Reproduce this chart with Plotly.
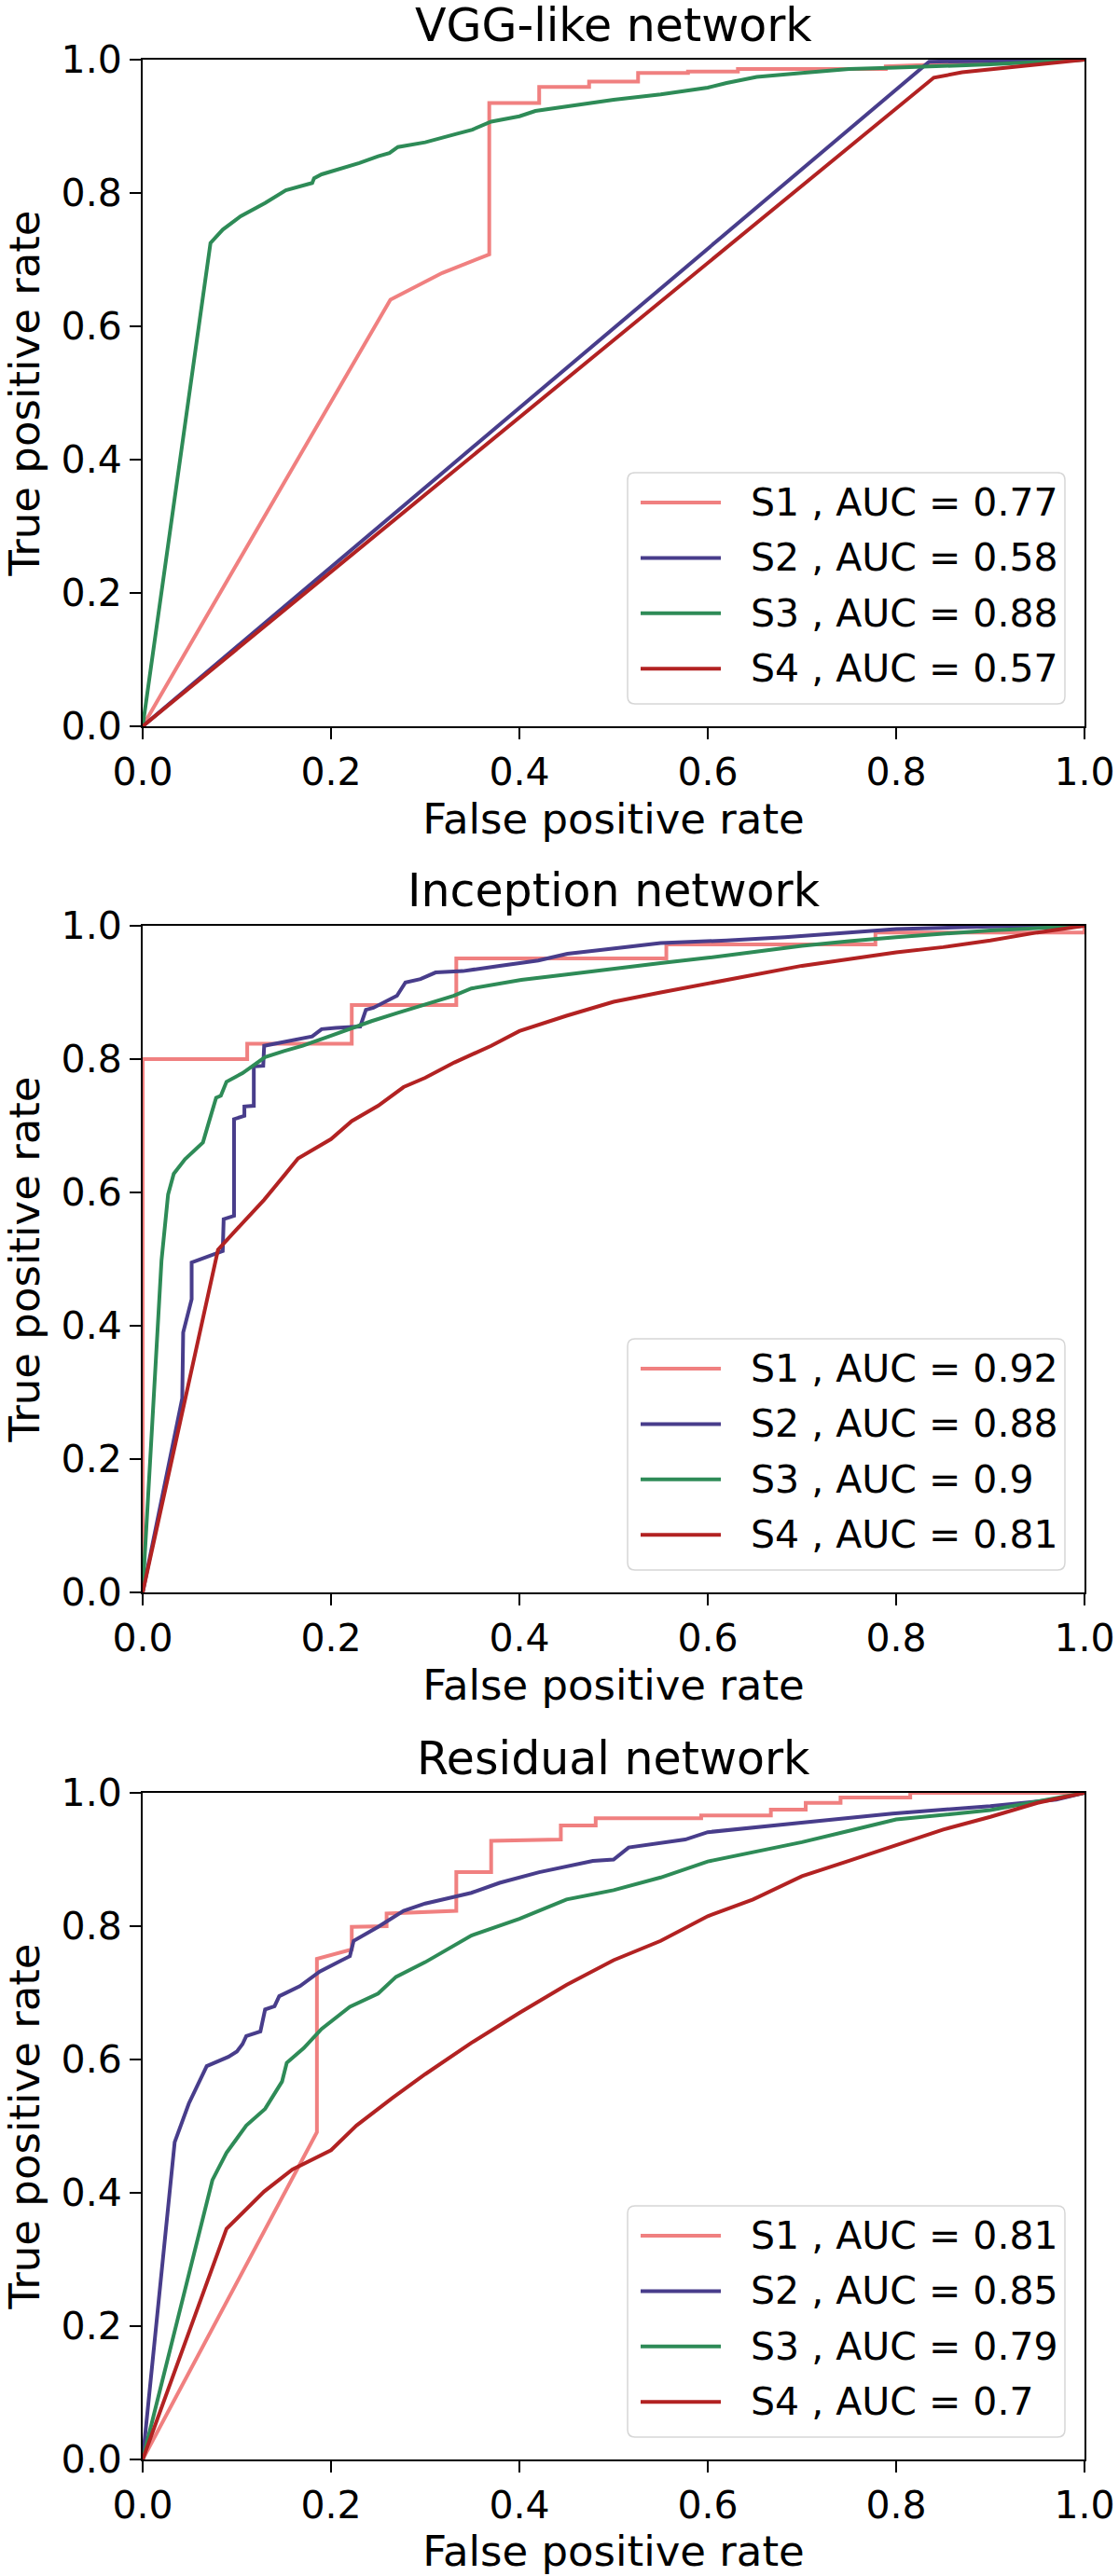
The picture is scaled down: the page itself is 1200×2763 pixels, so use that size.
import plotly.graph_objects as go

# ROC curves: three networks, four sets each
titles = ["VGG-like network", "Inception network", "Residual network"]
series_names = ["S1", "S2", "S3", "S4"]
colors = ["#F08080", "#483D8B", "#2E8B57", "#B22222"]
tick_vals = [0.0, 0.2, 0.4, 0.6, 0.8, 1.0]

# VGG-like network
vgg_auc = ["0.77", "0.58", "0.88", "0.57"]
vgg_s1_fpr = [0, 0.263, 0.318, 0.368, 0.368, 0.421, 0.421, 0.474, 0.474, 0.526, 0.526, 0.579, 0.579, 0.632, 0.632, 0.789, 0.789, 1.0]
vgg_s1_tpr = [0, 0.640, 0.680, 0.708, 0.935, 0.935, 0.959, 0.959, 0.967, 0.967, 0.980, 0.980, 0.982, 0.982, 0.986, 0.986, 0.990, 1.0]
vgg_s2_fpr = [0, 0.835, 1.0]
vgg_s2_tpr = [0, 0.997, 1.0]
vgg_s3_fpr = [0, 0.072, 0.085, 0.104, 0.13, 0.152, 0.18, 0.182, 0.19, 0.21, 0.23, 0.25, 0.262, 0.271, 0.30, 0.334, 0.35, 0.37, 0.40, 0.417, 0.45, 0.5, 0.55, 0.6, 0.62, 0.652, 0.7, 0.75, 0.8, 0.85, 0.9, 1.0]
vgg_s3_tpr = [0, 0.725, 0.745, 0.765, 0.785, 0.804, 0.815, 0.822, 0.828, 0.836, 0.845, 0.855, 0.860, 0.869, 0.876, 0.889, 0.895, 0.907, 0.915, 0.923, 0.930, 0.940, 0.948, 0.958, 0.965, 0.974, 0.980, 0.986, 0.988, 0.990, 0.993, 1.0]
vgg_s4_fpr = [0, 0.84, 0.87, 1.0]
vgg_s4_tpr = [0, 0.973, 0.981, 1.0]

# Inception network
inc_auc = ["0.92", "0.88", "0.9", "0.81"]
inc_s1_fpr = [0, 0, 0.111, 0.111, 0.222, 0.222, 0.333, 0.333, 0.556, 0.556, 0.778, 0.778, 1.0, 1.0]
inc_s1_tpr = [0, 0.800, 0.800, 0.823, 0.823, 0.881, 0.881, 0.951, 0.951, 0.972, 0.972, 0.990, 0.990, 1.0]
inc_s2_fpr = [0, 0.042, 0.043, 0.052, 0.052, 0.085, 0.086, 0.097, 0.097, 0.108, 0.108, 0.118, 0.118, 0.128, 0.129, 0.15, 0.165, 0.18, 0.19, 0.205, 0.231, 0.237, 0.245, 0.258, 0.27, 0.279, 0.295, 0.311, 0.34, 0.379, 0.42, 0.451, 0.5, 0.55, 0.62, 0.682, 0.75, 0.8, 0.9, 1.0]
inc_s2_tpr = [0, 0.291, 0.390, 0.440, 0.495, 0.512, 0.560, 0.565, 0.710, 0.715, 0.729, 0.730, 0.789, 0.790, 0.820, 0.826, 0.830, 0.834, 0.845, 0.847, 0.849, 0.874, 0.877, 0.886, 0.895, 0.915, 0.920, 0.930, 0.932, 0.940, 0.948, 0.958, 0.966, 0.974, 0.978, 0.983, 0.990, 0.995, 0.999, 1.0]
inc_s3_fpr = [0, 0.012, 0.02, 0.027, 0.033, 0.045, 0.055, 0.064, 0.07, 0.078, 0.083, 0.089, 0.106, 0.13, 0.15, 0.17, 0.2, 0.243, 0.27, 0.303, 0.33, 0.349, 0.402, 0.45, 0.5, 0.55, 0.6, 0.65, 0.7, 0.75, 0.8, 0.9, 1.0]
inc_s3_tpr = [0, 0.300, 0.498, 0.597, 0.628, 0.650, 0.663, 0.675, 0.704, 0.742, 0.745, 0.766, 0.779, 0.803, 0.812, 0.820, 0.835, 0.857, 0.869, 0.884, 0.895, 0.906, 0.919, 0.927, 0.936, 0.944, 0.952, 0.961, 0.970, 0.977, 0.983, 0.993, 1.0]
inc_s4_fpr = [0, 0.08, 0.1, 0.129, 0.15, 0.165, 0.2, 0.222, 0.25, 0.277, 0.3, 0.331, 0.37, 0.4, 0.45, 0.5, 0.55, 0.6, 0.65, 0.7, 0.75, 0.8, 0.85, 0.9, 0.95, 1.0]
inc_s4_tpr = [0, 0.514, 0.545, 0.589, 0.625, 0.651, 0.680, 0.707, 0.730, 0.758, 0.772, 0.795, 0.820, 0.842, 0.865, 0.886, 0.900, 0.913, 0.927, 0.940, 0.950, 0.960, 0.968, 0.978, 0.990, 1.0]

# Residual network
res_auc = ["0.81", "0.85", "0.79", "0.7"]
res_s1_fpr = [0, 0.185, 0.185, 0.222, 0.222, 0.259, 0.259, 0.333, 0.333, 0.370, 0.370, 0.444, 0.444, 0.481, 0.481, 0.593, 0.593, 0.667, 0.667, 0.704, 0.704, 0.741, 0.741, 0.815, 0.815, 1.0]
res_s1_tpr = [0, 0.491, 0.751, 0.765, 0.799, 0.800, 0.819, 0.823, 0.881, 0.881, 0.928, 0.930, 0.951, 0.951, 0.962, 0.962, 0.966, 0.966, 0.975, 0.975, 0.985, 0.985, 0.993, 0.993, 1.0, 1.0]
res_s2_fpr = [0, 0.034, 0.049, 0.068, 0.091, 0.1, 0.106, 0.11, 0.125, 0.13, 0.14, 0.145, 0.167, 0.188, 0.21, 0.22, 0.224, 0.25, 0.277, 0.3, 0.349, 0.379, 0.421, 0.478, 0.5, 0.516, 0.576, 0.6, 0.697, 0.796, 0.9, 0.97, 1.0]
res_s2_tpr = [0, 0.476, 0.534, 0.590, 0.604, 0.612, 0.623, 0.635, 0.642, 0.675, 0.680, 0.695, 0.710, 0.732, 0.748, 0.755, 0.778, 0.799, 0.823, 0.834, 0.850, 0.865, 0.881, 0.898, 0.900, 0.918, 0.930, 0.941, 0.955, 0.969, 0.980, 0.990, 1.0]
res_s3_fpr = [0, 0.074, 0.089, 0.11, 0.13, 0.148, 0.153, 0.171, 0.19, 0.22, 0.25, 0.269, 0.3, 0.33, 0.349, 0.4, 0.45, 0.5, 0.55, 0.6, 0.65, 0.7, 0.75, 0.8, 0.9, 1.0]
res_s3_tpr = [0, 0.419, 0.460, 0.501, 0.526, 0.567, 0.595, 0.617, 0.646, 0.679, 0.699, 0.724, 0.746, 0.770, 0.786, 0.811, 0.840, 0.854, 0.873, 0.897, 0.912, 0.926, 0.943, 0.960, 0.974, 1.0]
res_s4_fpr = [0, 0.089, 0.129, 0.159, 0.2, 0.227, 0.265, 0.3, 0.349, 0.4, 0.45, 0.5, 0.55, 0.6, 0.648, 0.7, 0.75, 0.8, 0.85, 0.9, 0.95, 1.0]
res_s4_tpr = [0, 0.346, 0.402, 0.435, 0.464, 0.501, 0.542, 0.578, 0.625, 0.670, 0.712, 0.749, 0.778, 0.815, 0.840, 0.875, 0.898, 0.922, 0.945, 0.964, 0.985, 1.0]

panels = [
    (vgg_auc, [(vgg_s1_fpr, vgg_s1_tpr), (vgg_s2_fpr, vgg_s2_tpr), (vgg_s3_fpr, vgg_s3_tpr), (vgg_s4_fpr, vgg_s4_tpr)]),
    (inc_auc, [(inc_s1_fpr, inc_s1_tpr), (inc_s2_fpr, inc_s2_tpr), (inc_s3_fpr, inc_s3_tpr), (inc_s4_fpr, inc_s4_tpr)]),
    (res_auc, [(res_s1_fpr, res_s1_tpr), (res_s2_fpr, res_s2_tpr), (res_s3_fpr, res_s3_tpr), (res_s4_fpr, res_s4_tpr)]),
]

W, H = 1200, 2763
plot_left, plot_right = 153, 1163
plot_tops = [64, 993, 1923]
plot_h = 715
plot_w = plot_right - plot_left
font = "DejaVu Sans"
lw = 4

fig = go.Figure()
shapes = []
annotations = []

for i, (aucs, curves) in enumerate(panels):
    n = "" if i == 0 else str(i + 1)
    xa, ya = "x" + n, "y" + n
    for j, (fpr, tpr) in enumerate(curves):
        fig.add_trace(go.Scatter(
            x=fpr, y=tpr, mode="lines", xaxis=xa, yaxis=ya,
            line=dict(color=colors[j], width=lw), showlegend=False,
            name=series_names[j] + " , AUC = " + aucs[j],
        ))

    top = plot_tops[i]
    y_dom = [1 - (top + plot_h) / H, 1 - top / H]
    axis_common = dict(
        range=[0, 1], showgrid=False, zeroline=False, showline=True, mirror=True,
        linecolor="black", linewidth=2, ticks="outside", ticklen=12, tickwidth=2,
        tickcolor="black", tickvals=tick_vals, tickformat=".1f", automargin=False,
        tickfont=dict(family=font, size=41, color="black"),
    )
    fig.layout["xaxis" + n] = dict(
        axis_common, domain=[plot_left / W, plot_right / W], anchor=ya,
        title=dict(text="False positive rate", font=dict(family=font, size=45, color="black"), standoff=0),
    )
    fig.layout["yaxis" + n] = dict(
        axis_common, domain=y_dom, anchor=xa,
        title=dict(text="True positive rate", font=dict(family=font, size=45, color="black"), standoff=18),
    )

    xd, yd = xa + " domain", ya + " domain"
    annotations.append(dict(
        text=titles[i], xref=xd, yref=yd, x=0.5, y=1, yshift=37, showarrow=False,
        xanchor="center", yanchor="middle", font=dict(family=font, size=49, color="black"),
    ))

    # legend box in the lower right corner
    bx1 = 1 - 21 / plot_w
    bx0 = bx1 - 469 / plot_w
    by0 = 24 / plot_h
    by1 = by0 + 248 / plot_h
    rx, ry = 8 / plot_w, 8 / plot_h
    path = (f"M{bx0 + rx},{by0} L{bx1 - rx},{by0} Q{bx1},{by0} {bx1},{by0 + ry} "
            f"L{bx1},{by1 - ry} Q{bx1},{by1} {bx1 - rx},{by1} L{bx0 + rx},{by1} "
            f"Q{bx0},{by1} {bx0},{by1 - ry} L{bx0},{by0 + ry} Q{bx0},{by0} {bx0 + rx},{by0} Z")
    shapes.append(dict(type="path", xref=xd, yref=yd, path=path,
                       fillcolor="white", line=dict(color="#d6d6d6", width=1.5), layer="above"))
    for j in range(4):
        row_y = by1 - (32 + 59.4 * j) / plot_h
        shapes.append(dict(type="line", xref=xd, yref=yd,
                           x0=bx0 + 14 / plot_w, x1=bx0 + 100 / plot_w, y0=row_y, y1=row_y,
                           line=dict(color=colors[j], width=lw), layer="above"))
        annotations.append(dict(
            text=series_names[j] + " , AUC = " + aucs[j], xref=xd, yref=yd,
            x=bx0 + 130 / plot_w, y=row_y, showarrow=False, xanchor="left", yanchor="middle",
            font=dict(family=font, size=41, color="black"),
        ))

fig.update_layout(
    width=W, height=H, autosize=False,
    margin=dict(l=0, r=0, t=0, b=0),
    paper_bgcolor="white", plot_bgcolor="white",
    shapes=shapes, annotations=annotations,
)

# the page body has an 8px default margin; drop it so the figure fills the window
fig.write_html("out.html", config={"displayModeBar": False},
               post_script="document.body.style.margin='0';")
